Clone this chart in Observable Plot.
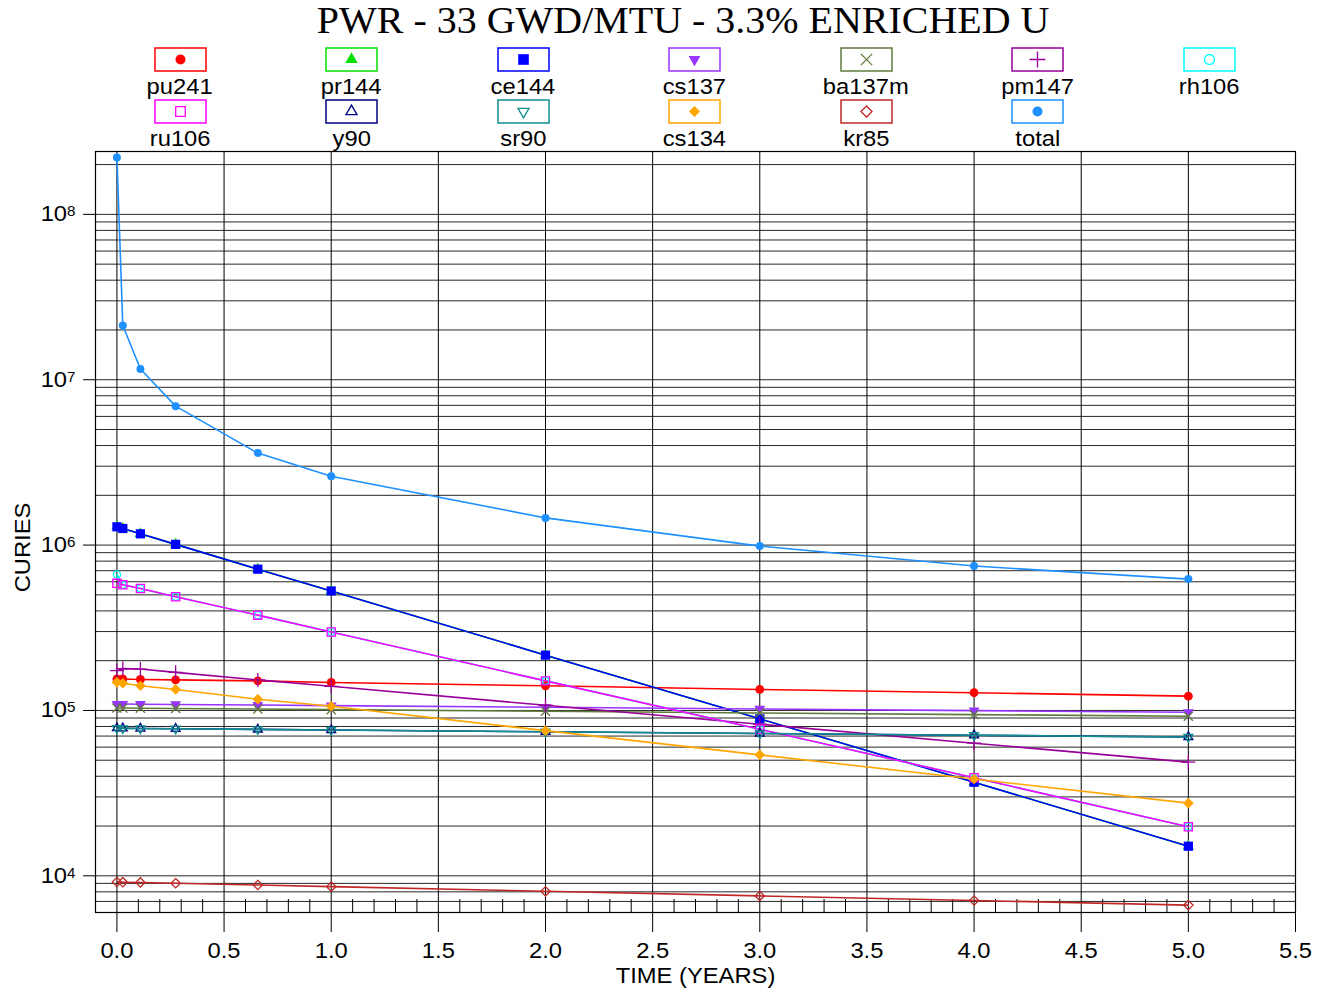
<!DOCTYPE html>
<html>
<head>
<meta charset="utf-8">
<script src="https://cdn.jsdelivr.net/npm/d3@7"></script>
<script src="https://cdn.jsdelivr.net/npm/@observablehq/plot@0.6"></script>
<style>
  html, body { margin: 0; padding: 0; background: #fff; }
  body { width: 1324px; height: 996px; position: relative; overflow: hidden;
         font-family: "Liberation Sans", Arial, sans-serif; color: #000; }
  #title { position: absolute; left: 21px; top: 0; width: 1324px; text-align: center;
           font-family: "Liberation Serif", "Times New Roman", serif; font-size: 37px;
           line-height: 42px; z-index: 3; }
  #title span { display: inline-block; transform: scaleX(1.08); }
  #legend { position: absolute; left: 0; top: 0; width: 1324px; height: 150px; z-index: 2; }
  .litem { position: absolute; width: 120px; margin-left: -60px; text-align: center; }
  .litem svg { display: block; margin: 0 auto; }
  .litem .lab { font-size: 22px; line-height: 24px; margin-top: 3px; }
  .litem .lab span { display: inline-block; transform: scaleX(1.08); }
  #chart { position: absolute; left: 0; top: 148px; z-index: 1; }
</style>
</head>
<body>
<div id="title"><span>PWR - 33 GWD/MTU - 3.3% ENRICHED U</span></div>
<div id="legend"></div>
<div id="chart"></div>
<script>
// ---------------- data ----------------
const times = [0, 0.0274, 0.1096, 0.2740, 0.6575, 1, 2, 3, 4, 5]; // years (0, 10 d, 40 d, 100 d, 240 d, 1..5 y)

const seriesNames = ["pu241", "pr144", "ce144", "cs137", "ba137m", "pm147", "rh106",
                     "ru106", "y90", "sr90", "cs134", "kr85", "total"];

const pu241  = [1.55e5, 1.55e5, 1.54e5, 1.53e5, 1.51e5, 1.477e5, 1.41e5, 1.34e5, 1.28e5, 1.22e5];
const pr144  = [1.29e6, 1.26e6, 1.17e6, 1.01e6, 7.15e5, 5.28e5, 2.16e5, 8.9e4, 3.68e4, 1.51e4];
const ce144  = [1.29e6, 1.26e6, 1.17e6, 1.01e6, 7.15e5, 5.28e5, 2.16e5, 8.9e4, 3.68e4, 1.51e4];
const cs137  = [1.094e5, 1.093e5, 1.091e5, 1.087e5, 1.078e5, 1.069e5, 1.045e5, 1.021e5, 9.98e4, 9.75e4];
const ba137m = [1.035e5, 1.034e5, 1.032e5, 1.028e5, 1.020e5, 1.011e5, 9.89e4, 9.66e4, 9.44e4, 9.22e4];
const pm147  = [1.74e5, 1.79e5, 1.78e5, 1.70e5, 1.53e5, 1.40e5, 1.075e5, 8.26e4, 6.34e4, 4.87e4];
const rh106  = [6.65e5, 5.76e5, 5.46e5, 4.87e5, 3.77e5, 2.98e5, 1.51e5, 7.7e4, 3.92e4, 1.98e4];
const ru106  = [5.87e5, 5.76e5, 5.46e5, 4.87e5, 3.77e5, 2.98e5, 1.51e5, 7.7e4, 3.92e4, 1.98e4];
const y90    = [7.82e4, 7.80e4, 7.78e4, 7.75e4, 7.68e4, 7.61e4, 7.43e4, 7.26e4, 7.08e4, 6.91e4];
const sr90   = [7.80e4, 7.795e4, 7.78e4, 7.75e4, 7.68e4, 7.61e4, 7.43e4, 7.26e4, 7.08e4, 6.91e4];
const cs134  = [1.48e5, 1.46e5, 1.41e5, 1.34e5, 1.17e5, 1.06e5, 7.55e4, 5.39e4, 3.85e4, 2.75e4];
const kr85   = [9.17e3, 9.15e3, 9.12e3, 9.02e3, 8.80e3, 8.60e3, 8.06e3, 7.56e3, 7.09e3, 6.65e3];
const total  = [2.21e8, 2.13e7, 1.16e7, 6.92e6, 3.60e6, 2.61e6, 1.46e6, 9.86e5, 7.47e5, 6.23e5];

const seriesValues = [pu241, pr144, ce144, cs137, ba137m, pm147, rh106, ru106, y90, sr90, cs134, kr85, total];

const xTickValues = [0, 0.5, 1, 1.5, 2, 2.5, 3, 3.5, 4, 4.5, 5, 5.5];
const xMinorTicks = [0.1,0.2,0.3,0.4,0.6,0.7,0.8,0.9,1.1,1.2,1.3,1.4,1.6,1.7,1.8,1.9,2.1,2.2,2.3,2.4,
                     2.6,2.7,2.8,2.9,3.1,3.2,3.3,3.4,3.6,3.7,3.8,3.9,4.1,4.2,4.3,4.4,4.6,4.7,4.8,4.9,
                     5.1,5.2,5.3,5.4];
const yTickValues = [1e4, 1e5, 1e6, 1e7, 1e8];
const yGridValues = [6e3,7e3,8e3,9e3,
                     1e4,2e4,3e4,4e4,5e4,6e4,7e4,8e4,9e4,
                     1e5,2e5,3e5,4e5,5e5,6e5,7e5,8e5,9e5,
                     1e6,2e6,3e6,4e6,5e6,6e6,7e6,8e6,9e6,
                     1e7,2e7,3e7,4e7,5e7,6e7,7e7,8e7,9e7,
                     1e8,2e8];

// ---------------- styles ----------------
const seriesColors  = ["#ff0000", "#00e000", "#0000ff", "#9933ff", "#5f7a3c", "#990099", "#00ffff",
                       "#ff00ff", "#000080", "#108f8f", "#ffa500", "#c02828", "#1e90ff"];
const seriesSymbols = ["circle", "triangle", "square", "triangle", "times", "plus", "circle",
                       "square", "triangle", "triangle", "diamond2", "diamond2", "circle"];
const seriesRotate  = [0, 0, 0, 180, 0, 0, 0, 0, 0, 180, 0, 0, 0];
const seriesFilled  = [true, true, true, true, false, false, false, false, false, false, true, false, true];
const seriesR       = [4.4, 4.2, 5.2, 4.0, 4.2, 4.6, 3.6, 4.6, 3.3, 3.3, 4.8, 4.2, 4.0];
const legendR       = [5.0, 4.6, 6.0, 4.4, 5.2, 5.2, 5.0, 5.4, 4.1, 4.1, 5.0, 5.0, 5.0];

// ---------------- legend ----------------
const symbolTypes = {circle: d3.symbolCircle, triangle: d3.symbolTriangle, square: d3.symbolSquare,
                     times: d3.symbolTimes, plus: d3.symbolPlus, diamond2: d3.symbolDiamond2};
const legendEl = document.getElementById("legend");
seriesNames.forEach((name, i) => {
  const col = i % 7, row = Math.floor(i / 7);
  const cx = 180 + col * 171.5;
  const top = row === 0 ? 47 : 99;
  const item = document.createElement("div");
  item.className = "litem";
  item.style.left = cx + "px";
  item.style.top = top + "px";
  const svg = d3.create("svg").attr("width", 53).attr("height", 25);
  svg.append("rect").attr("x", 1).attr("y", 1).attr("width", 51).attr("height", 23)
     .attr("fill", "#fff").attr("stroke", seriesColors[i]).attr("stroke-width", 1.5);
  const r = legendR[i];
  const path = d3.symbol(symbolTypes[seriesSymbols[i]], Math.PI * r * r)();
  svg.append("path").attr("d", path)
     .attr("transform", `translate(26.5,12.5) rotate(${seriesRotate[i]})`)
     .attr("fill", seriesFilled[i] ? seriesColors[i] : "none")
     .attr("stroke", seriesFilled[i] ? "none" : seriesColors[i])
     .attr("stroke-width", 1.3);
  item.appendChild(svg.node());
  const lab = document.createElement("div");
  lab.className = "lab";
  const sp = document.createElement("span");
  sp.textContent = name;
  lab.appendChild(sp);
  item.appendChild(lab);
  legendEl.appendChild(item);
});

// ---------------- chart ----------------
const rows = [];
seriesNames.forEach((s, i) => seriesValues[i].forEach((v, j) => rows.push({s, t: times[j], v})));

const seriesMarks = [];
seriesNames.forEach((s, i) => {
  const data = rows.filter(d => d.s === s);
  seriesMarks.push(Plot.line(data, {x: "t", y: "v", stroke: seriesColors[i], strokeWidth: 1.6}));
});
seriesNames.forEach((s, i) => {
  const data = rows.filter(d => d.s === s);
  seriesMarks.push(Plot.dot(data, {
    x: "t", y: "v", symbol: seriesSymbols[i], r: seriesR[i], rotate: seriesRotate[i],
    fill: seriesFilled[i] ? seriesColors[i] : "none",
    stroke: seriesFilled[i] ? "none" : seriesColors[i],
    strokeWidth: 1.3
  }));
});

const chart = Plot.plot({
  width: 1324,
  height: 848,
  marginTop: 3,
  marginBottom: 84,
  marginLeft: 95,
  marginRight: 29,
  x: {domain: [-0.1, 5.5]},
  y: {type: "log", domain: [6000, 2.4e8]},
  style: {fontFamily: "'Liberation Sans', Arial, sans-serif", color: "#000", background: "transparent", overflow: "visible"},
  marks: [
    Plot.gridY(yGridValues, {stroke: "#000", strokeOpacity: 0.85, strokeWidth: 1}),
    Plot.gridX(xTickValues, {stroke: "#000", strokeOpacity: 1, strokeWidth: 1}),
    Plot.ruleX(xMinorTicks, {x: d => d, stroke: "#000", strokeWidth: 1, insetTop: 748}),
    Plot.axisX(xTickValues, {tickSize: 20, tickPadding: 10, tickFormat: d3.format(".1f"),
                             fontSize: 22, label: null, stroke: "#000"}),
    Plot.axisY(yTickValues, {tickSize: 12, tickPadding: 8,
                             tickFormat: d => "10^" + Math.round(Math.log10(d)),
                             fontSize: 22, label: null, stroke: "#000"}),
    ...seriesMarks,
    Plot.frame({stroke: "#000", strokeWidth: 1.2}),
    Plot.text(["TIME (YEARS)"], {frameAnchor: "bottom", lineAnchor: "middle", textAnchor: "middle",
                                 dy: 63, fontSize: 22, fill: "#000"}),
    Plot.text(["CURIES"], {frameAnchor: "left", lineAnchor: "middle", textAnchor: "middle",
                           dx: -73, dy: 15.5, rotate: -90, fontSize: 22, fill: "#000"})
  ]
});

document.getElementById("chart").appendChild(chart);

// superscripts for y tick labels, slight horizontal stretch of text as in original
const NS = "http://www.w3.org/2000/svg";
chart.querySelectorAll("text").forEach(t => {
  const m = t.textContent.match(/^10\^(\d+)$/);
  if (m) {
    t.textContent = "10";
    const ts = document.createElementNS(NS, "tspan");
    ts.setAttribute("dy", "-5");
    ts.setAttribute("font-size", "14");
    ts.textContent = m[1];
    t.appendChild(ts);
  }
  const tr = t.getAttribute("transform");
  if (tr) {
    t.setAttribute("transform", tr + " scale(1.08,1)");
  } else {
    const x = +(t.getAttribute("x") || 0), y = +(t.getAttribute("y") || 0);
    t.removeAttribute("x"); t.removeAttribute("y");
    t.setAttribute("transform", `translate(${x},${y}) scale(1.08,1)`);
  }
});
</script>
</body>
</html>
